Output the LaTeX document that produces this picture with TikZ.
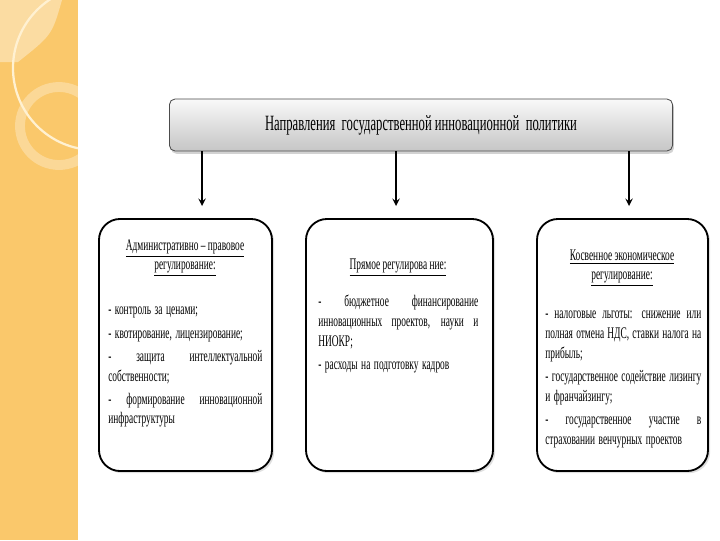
\documentclass[tikz,border=0pt]{standalone}
\usepackage{fontspec}
\setmainfont{Liberation Serif}
\newfontfamily\etroit[FakeStretch=0.58]{Liberation Serif}
\usetikzlibrary{arrows, shadows}
\usetikzlibrary{positioning}
\definecolor{orangefond}{HTML}{FAC86B}
\definecolor{orangeclair}{HTML}{FBDCA2}
\definecolor{creme}{HTML}{FFF1D2}
\tikzstyle{fleche} = [->,>=stealth,line width=1.3pt]
\tikzstyle{titre} = [draw=gray!60!black,line width=0.6pt,rounded corners=4pt,top color=gray!5,bottom color=gray!45,drop shadow={shadow xshift=1pt,shadow yshift=-2pt,fill=gray!70}]
\tikzstyle{cadre} = [draw,line width=1.3pt,rounded corners=15pt,fill=white,drop shadow={shadow xshift=1.5pt,shadow yshift=-1.5pt,fill=gray!50}]
\tikzstyle{entete} = [align=center,inner sep=0pt,anchor=north,font=\etroit\fontsize{11.5}{13.5}\selectfont]
\tikzstyle{texte} = [align=justify,inner sep=0pt,anchor=north west,font=\etroit\fontsize{11.5}{14}\selectfont,execute at begin node={\parindent0pt\parskip2.5pt\hyphenpenalty10000\exhyphenpenalty10000\tolerance9999\spaceskip=0.22em plus 3em minus 0.1em}]

\begin{document}
\begin{tikzpicture}[x=0.025cm,y=-0.025cm]

	\useasboundingbox (0,0) rectangle (720,540);

	%% Fond
	\fill[orangefond] (0,0) rectangle (78,540);
	\fill[orangeclair] (0,0) -- (62,0) .. controls (52,35) .. (18,62) -- (0,62) -- cycle;
	\begin{scope}
		\clip (0,0) rectangle (78,540);
		\draw[white, opacity=0.3, line width=7pt] (59,126) circle (39);
		\draw[creme, line width=1.6pt] (95,68) circle (82);
	\end{scope}

	%% Titre
	\node[titre, minimum width=12.575cm, minimum height=1.3cm] (Napr) at (421,125)
		{\etroit\fontsize{15.5}{17}\selectfont Направления\ \ государственной инновационной\ \ политики};

	%% Cadres
	\node[cadre, minimum width=4.325cm, minimum height=6.3cm] (Adm) at (185.5,345) {};
	\node[cadre, minimum width=4.675cm, minimum height=6.3cm] (Pryam) at (399.5,345) {};
	\node[cadre, minimum width=4.275cm, minimum height=6.3cm] (Kosv) at (622.5,345) {};

	%% Fleches
	\coordinate (p1) at (202,206);
	\coordinate (p2) at (396,206);
	\coordinate (p3) at (629,206);
	\draw[fleche] (Napr.south -| p1) -- (p1);
	\draw[fleche] (Napr.south -| p2) -- (p2);
	\draw[fleche] (Napr.south -| p3) -- (p3);

	%% Textes
	\node[entete] (AdmT) at (185,240) {\underline{Административно – правовое}\\ \underline{регулирование:}};
	\node[texte, text width=3.85cm] (AdmL) at (108,307) {%
		- контроль за ценами;\par
		- квотирование, лицензирование;\par
		- защита интеллектуальной\linebreak собственности;\par
		- формирование инновационной\linebreak инфраструктуры};

	\node[entete] (PryamT) at (398,259) {\underline{Прямое регулирова ние:}};
	\node[texte, text width=4.0cm] (PryamL) at (318,295) {%
		- бюджетное финансирование\linebreak инновационных проектов, науки и\linebreak НИОКР;\par
		- расходы на подготовку кадров};

	\node[entete] (KosvT) at (622,250) {\underline{Косвенное экономическое}\\ \underline{регулирование:}};
	\node[texte, text width=3.9cm] (KosvL) at (545,311) {%
		- налоговые льготы: снижение или\linebreak полная отмена НДС, ставки налога на\linebreak прибыль;\par
		- государственное содействие лизингу\linebreak и франчайзингу;\par
		- государственное участие в\linebreak страховании венчурных проектов};

\end{tikzpicture}
\end{document}
